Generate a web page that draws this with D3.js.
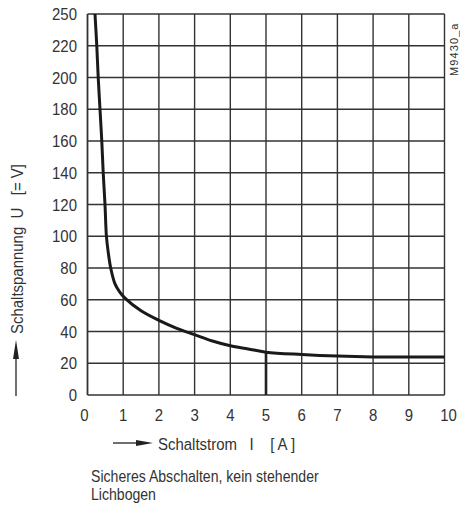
<!DOCTYPE html>
<html>
<head>
<meta charset="utf-8">
<script src="https://cdn.jsdelivr.net/npm/d3@7"></script>
<style>
  body { margin: 0; background: #fff; }
  text { font-family: "Liberation Sans", Arial, sans-serif; fill: #333; }
</style>
</head>
<body>
<svg width="460" height="507"></svg>
<script>
// tick labels
var xTicks = [0, 1, 2, 3, 4, 5, 6, 7, 8, 9, 10];
var yTicks = [0, 20, 40, 60, 80, 100, 120, 140, 160, 180, 200, 220, 250];

// curve: current I [A] and voltage U [V]
var curveI = [0.21, 0.26, 0.30, 0.35, 0.40, 0.44, 0.49, 0.53, 0.58, 0.65, 0.77, 0.9, 1.05, 1.5, 2, 2.5, 3, 3.5, 4, 4.5, 5, 6, 7, 8, 9, 10];
var curveU = [250, 220, 200, 180, 160, 140, 120, 100, 90, 80, 70, 65, 61, 53, 47, 42, 38, 34, 31, 29, 27, 25.5, 24.5, 24, 24, 24];

var markI = 5;

// no narrow font installed, so squeeze the regular one
var squeeze = 0.88;
function at(x, y, rot) {
  return "translate(" + x + "," + y + ")" + (rot ? " rotate(" + rot + ")" : "") + " scale(" + squeeze + ",1)";
}

var svg = d3.select("svg");

var scaleX = d3.scaleLinear()
    .domain([0, 10])
    .range([87.5, 444.5]);

// the top step 220 -> 250 has the same height as a 20 V step
var scaleY = d3.scaleLinear()
    .domain([0, 220, 250])
    .range([395, 45.75, 14]);

var grid = svg.append("g");

grid.selectAll(".hline")
    .data(yTicks)
    .enter()
    .append("line")
    .attr("x1", scaleX(0))
    .attr("x2", scaleX(10))
    .attr("y1", function(d) { return scaleY(d) })
    .attr("y2", function(d) { return scaleY(d) })
    .attr("stroke", "#333")
    .attr("stroke-width", 1.4);

grid.selectAll(".vline")
    .data(xTicks)
    .enter()
    .append("line")
    .attr("x1", function(d) { return scaleX(d) })
    .attr("x2", function(d) { return scaleX(d) })
    .attr("y1", scaleY(0))
    .attr("y2", scaleY(250))
    .attr("stroke", "#333")
    .attr("stroke-width", function(d) { return d == 0 ? 1.8 : 1.4 });

// y labels
svg.selectAll(".ylab")
    .data(yTicks)
    .enter()
    .append("text")
    .attr("transform", function(d) { return at(77, scaleY(d) + 6) })
    .attr("text-anchor", "end")
    .attr("font-size", 17)
    .text(function(d) { return d });

// x labels
svg.selectAll(".xlab")
    .data(xTicks)
    .enter()
    .append("text")
    .attr("transform", function(d) { return at(scaleX(d) + (d == 0 ? -3 : d == 10 ? 4 : 0), 421) })
    .attr("text-anchor", "middle")
    .attr("font-size", 17)
    .text(function(d) { return d });

// marker at I = 5
var markU = curveU[curveI.indexOf(markI)];
svg.append("line")
    .attr("x1", scaleX(markI))
    .attr("x2", scaleX(markI))
    .attr("y1", scaleY(0))
    .attr("y2", scaleY(markU))
    .attr("stroke", "#222")
    .attr("stroke-width", 2.6);

var line = d3.line()
    .x(function(d, i) { return scaleX(d) })
    .y(function(d, i) { return scaleY(curveU[i]) })
    .curve(d3.curveCatmullRom.alpha(0.5));

svg.append("path")
    .attr("d", line(curveI))
    .attr("fill", "none")
    .attr("stroke", "#1a1a1a")
    .attr("stroke-width", 3);

// y title with arrow
svg.append("line")
    .attr("x1", 16).attr("x2", 16)
    .attr("y1", 396).attr("y2", 355)
    .attr("stroke", "#222").attr("stroke-width", 1.3);
svg.append("path")
    .attr("d", "M16,340 L19,359 L13,359 Z")
    .attr("fill", "#222");

svg.append("text")
    .attr("transform", at(23, 334, -90))
    .attr("font-size", 17)
    .attr("xml:space", "preserve")
    .text("Schaltspannung  U   [= V]");

// x title with arrow
svg.append("line")
    .attr("x1", 113).attr("x2", 140)
    .attr("y1", 443).attr("y2", 443)
    .attr("stroke", "#222").attr("stroke-width", 1.3);
svg.append("path")
    .attr("d", "M153,443 L136,440 L136,446 Z")
    .attr("fill", "#222");

svg.append("text")
    .attr("transform", at(158, 450))
    .attr("font-size", 17)
    .attr("xml:space", "preserve")
    .text("Schaltstrom   I    [ A ]");

// note below
svg.append("text")
    .attr("transform", at(91, 482))
    .attr("font-size", 16)
    .text("Sicheres Abschalten, kein stehender");
svg.append("text")
    .attr("transform", at(91, 500))
    .attr("font-size", 16)
    .text("Lichbogen");

// drawing number
svg.append("text")
    .attr("transform", "translate(458,76) rotate(-90)")
    .attr("font-size", 11)
    .attr("letter-spacing", 1.1)
    .text("M9430_a");
</script>
</body>
</html>
